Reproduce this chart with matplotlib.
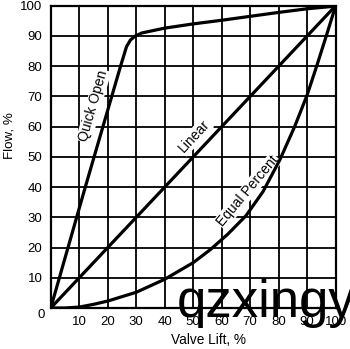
import matplotlib
matplotlib.use("Agg")
import matplotlib.pyplot as plt

plt.rcParams['font.family'] = ['Liberation Sans', 'DejaVu Sans']

# valve lift, % -> flow, %
lift_linear = [0, 100]
flow_linear = [0, 100]

lift_quick = [0, 12, 24.5, 26.6, 28, 29.7, 32, 35, 40, 50, 60, 70, 80, 90, 98, 100]
flow_quick = [0, 39.6, 80, 86.5, 88.7, 90, 91, 91.6, 92.6, 94, 95.2, 96.5, 97.8, 99, 99.7, 100]

lift_equal = [0, 5, 10, 15, 20, 30, 40, 50, 56, 62, 68.5, 74.5, 80.4, 85.6, 90, 93.5, 96.7, 100]
flow_equal = [0, 0, 0.3, 1.2, 2.3, 5.2, 9.5, 15, 19.3, 24.3, 30.5, 38.5, 49, 60, 70.5, 80.5, 90, 100]

ticks = list(range(10, 101, 10))

fig = plt.figure(figsize=(3.5, 3.49), dpi=100)
ax = fig.add_axes([0.145, 0.1175, 0.814, 0.866])

ax.plot(lift_linear, flow_linear, color='black', lw=2.3, solid_capstyle='butt', zorder=3)
ax.plot(lift_quick, flow_quick, color='black', lw=2.3, zorder=3)
ax.plot(lift_equal, flow_equal, color='black', lw=2.3, zorder=3)

ax.set_xlim(0, 100)
ax.set_ylim(0, 100)
ax.set_xticks(ticks)
ax.set_yticks(ticks)
ax.grid(True, color='black', lw=1.3)
ax.set_axisbelow(True)
ax.tick_params(length=0, labelsize=9.5, pad=6)
for s in ax.spines.values():
    s.set_linewidth(1.6)

ax.text(-0.034, -0.023, '0', transform=ax.transAxes, ha='center', va='center', fontsize=9.5)

ax.set_xlabel('Valve Lift, %', fontsize=9.8)
ax.xaxis.set_label_coords(0.552, -0.083)
ax.set_ylabel('Flow, %', fontsize=9.6)
ax.yaxis.set_label_coords(-0.124, 0.57)

box = dict(fc='white', ec='none', pad=0.6)
ax.text(15.0, 66.9, 'Quick Open', rotation=74, ha='center', va='center', fontsize=10, bbox=box, zorder=2.5)
ax.text(50.5, 56.8, 'Linear', rotation=47, ha='center', va='center', fontsize=10, bbox=box, zorder=2.5)
ax.text(69.2, 38.7, 'Equal Percent', rotation=50, ha='center', va='center', fontsize=10, bbox=box, zorder=2.5)

# watermark
fig.text(177 / 350, 1 - 317 / 349, 'qzxingy', fontsize=38, ha='left', va='baseline', color='black', zorder=5)

fig.savefig('out.png', dpi=100)
